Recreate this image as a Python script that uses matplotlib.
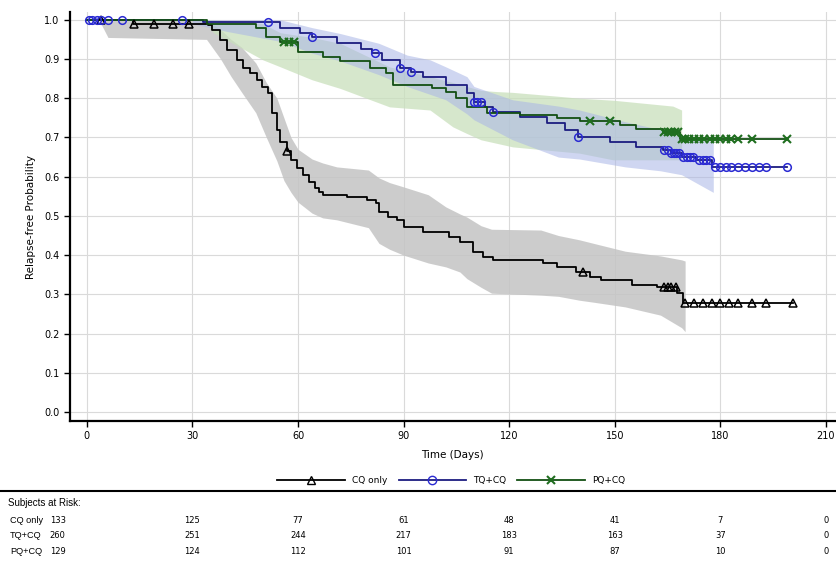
import numpy as np
import matplotlib
matplotlib.use("Agg")
import matplotlib.pyplot as plt
from matplotlib import transforms
from matplotlib.lines import Line2D

# Kaplan-Meier step curves (time in days, relapse-free probability)
cq_time = [0, 13, 34.4, 35.5, 37.8, 39.7, 42.6, 44.4, 46.3, 48.3, 49.7, 51.4, 52.6, 54, 55, 57, 58,
           59.7, 61.5, 63, 64.8, 66, 67, 74, 79.5, 82.3, 83, 85.5, 88, 90, 95.5, 103, 106, 109.7,
           112.5, 115.5, 129.6, 133.5, 139, 143, 146, 155, 162, 167.6, 169.5, 200.7]
cq_surv = [1.0, 0.99, 0.987, 0.974, 0.949, 0.923, 0.898, 0.877, 0.865, 0.847, 0.829, 0.814, 0.763,
           0.72, 0.689, 0.665, 0.643, 0.622, 0.604, 0.587, 0.571, 0.561, 0.554, 0.549, 0.541, 0.533,
           0.51, 0.497, 0.49, 0.472, 0.459, 0.447, 0.434, 0.408, 0.396, 0.388, 0.38, 0.37, 0.357,
           0.344, 0.337, 0.324, 0.318, 0.303, 0.278, 0.278]
cq_cens = [4, 13.5, 19, 24.5, 29, 57, 141, 164, 165, 166, 167.5, 170, 172.5, 175, 177.5, 180,
           182.5, 185, 189, 193, 200.7]

tq_time = [0, 33, 55, 60.5, 64, 71, 78, 81, 84, 89, 92, 95.5, 102, 108, 110, 113, 115.5, 123,
           130.7, 136, 139.5, 148.6, 156, 163.7, 166, 169, 173, 177.6, 199]
tq_surv = [1.0, 0.995, 0.98, 0.967, 0.957, 0.94, 0.925, 0.915, 0.898, 0.877, 0.868, 0.855, 0.834,
           0.814, 0.79, 0.778, 0.765, 0.753, 0.737, 0.72, 0.70, 0.689, 0.676, 0.668, 0.66, 0.651,
           0.643, 0.625, 0.625]
tq_cens = [0.5, 1.5, 3, 4, 6, 10, 27, 51.5, 64, 82, 89, 92, 110, 111, 112, 115.5, 139.5, 164, 165,
           166, 166.7, 167.5, 168.3, 169.5, 170.5, 171.5, 172.3, 174, 175, 176, 177, 178.6, 180,
           181.5, 183, 185, 187, 189, 191, 193, 199]

pq_time = [0, 34, 48, 51, 55, 60, 67, 72, 80.4, 85, 87, 98, 102, 105, 108, 113.6, 123, 133.5, 140,
           151.5, 156, 163.7, 168.5, 199]
pq_surv = [1.0, 0.99, 0.98, 0.957, 0.944, 0.918, 0.906, 0.894, 0.877, 0.864, 0.834, 0.826, 0.816,
           0.80, 0.778, 0.763, 0.758, 0.75, 0.742, 0.732, 0.722, 0.714, 0.697, 0.697]
pq_cens = [56, 57.5, 59, 143, 148.6, 164, 165, 166, 167, 168, 169, 170, 171, 172.5, 174, 175.5,
           177, 178.5, 180, 181.5, 183, 185, 189, 199]

# confidence bands
cq_band_t = [4, 6, 34, 38, 41, 44, 48, 51, 54, 56, 58, 60, 64, 67, 71, 80, 83, 86, 90, 97, 102,
             106, 108, 112, 115, 129, 134, 140, 144, 153, 163, 169, 170]
cq_upper = [1.0, 1.0, 1.0, 0.975, 0.95, 0.93, 0.89, 0.84, 0.80, 0.75, 0.70, 0.67, 0.645, 0.635,
            0.625, 0.617, 0.597, 0.585, 0.574, 0.554, 0.523, 0.505, 0.497, 0.475, 0.466, 0.464,
            0.45, 0.439, 0.43, 0.41, 0.398, 0.388, 0.385]
cq_lower = [0.99, 0.955, 0.95, 0.90, 0.855, 0.815, 0.763, 0.70, 0.64, 0.59, 0.56, 0.535, 0.507,
            0.495, 0.49, 0.47, 0.43, 0.415, 0.40, 0.38, 0.37, 0.357, 0.34, 0.318, 0.303, 0.298,
            0.295, 0.285, 0.28, 0.268, 0.247, 0.215, 0.205]

tq_band_t = [30, 40, 55, 64, 72, 83, 91, 97.5, 102, 108, 110, 121, 134, 140, 153, 163, 169, 178]
tq_upper = [1.0, 1.0, 1.0, 0.98, 0.965, 0.94, 0.91, 0.898, 0.88, 0.855, 0.83, 0.796, 0.78, 0.77,
            0.74, 0.72, 0.70, 0.69]
tq_lower = [0.99, 0.97, 0.945, 0.915, 0.895, 0.86, 0.83, 0.81, 0.796, 0.76, 0.745, 0.694, 0.65,
            0.645, 0.625, 0.615, 0.605, 0.56]

pq_band_t = [33, 36, 50, 55, 64, 72, 86, 97.5, 104, 108, 112, 116.5, 121, 134, 140, 149.5, 166.5, 169]
pq_upper = [1.0, 1.0, 0.99, 0.967, 0.955, 0.94, 0.88, 0.855, 0.84, 0.83, 0.82, 0.817, 0.815,
            0.805, 0.80, 0.795, 0.78, 0.77]
pq_lower = [1.0, 0.967, 0.898, 0.88, 0.847, 0.825, 0.778, 0.77, 0.727, 0.71, 0.694, 0.685, 0.676,
            0.665, 0.66, 0.643, 0.643, 0.643]

# numbers at risk
risk_days = [0, 30, 60, 90, 120, 150, 180, 210]
risk_cq = [133, 125, 77, 61, 48, 41, 7, 0]
risk_tq = [260, 251, 244, 217, 183, 163, 37, 0]
risk_pq = [129, 124, 112, 101, 91, 87, 10, 0]
group_names = ["CQ only", "TQ+CQ", "PQ+CQ"]


def step_value(times, surv, t):
    idx = np.searchsorted(times, t, side="right") - 1
    return np.asarray(surv)[idx]


fig = plt.figure(figsize=(8.36, 5.69), dpi=100)
ax = fig.add_axes([0.0837, 0.26, 0.916, 0.719])

# bands
ax.fill_between(cq_band_t, cq_lower, cq_upper, color="#c4c4c4", alpha=0.85, lw=0, zorder=1)
ax.fill_between(pq_band_t, pq_lower, pq_upper, color="#c9e0bc", alpha=0.75, lw=0, zorder=1)
ax.fill_between(tq_band_t, tq_lower, tq_upper, color="#a9b5e6", alpha=0.55, lw=0, zorder=1)

styles = [
    (cq_time, cq_surv, cq_cens, "black", "black", "^", "CQ only"),
    (tq_time, tq_surv, tq_cens, "#1c1c80", "#2a2ad2", "o", "TQ+CQ"),
    (pq_time, pq_surv, pq_cens, "#134f13", "#1f6e1f", "x", "PQ+CQ"),
]
for times, surv, cens, lcol, mcol, mk, name in styles:
    ax.step(times, surv, where="post", color=lcol, lw=1.3, zorder=3)
    cy = step_value(times, surv, cens)
    if mk == "x":
        ax.plot(cens, cy, ls="none", marker="x", ms=5.5, mew=1.5, color=mcol, zorder=4)
    else:
        ax.plot(cens, cy, ls="none", marker=mk, ms=5.5, mew=1.1, mfc="none", mec=mcol, zorder=4)

ax.set_xlim(-4.8, 212.8)
ax.set_ylim(-0.023, 1.02)
ax.set_xticks(risk_days)
ax.set_yticks(np.arange(0, 1.01, 0.1))
ax.set_yticklabels([f"{v:.1f}" for v in np.arange(0, 1.01, 0.1)])
ax.grid(True, color="#dadada", lw=0.8)
ax.set_axisbelow(True)
for s in ["top", "right"]:
    ax.spines[s].set_visible(False)
for s in ["left", "bottom"]:
    ax.spines[s].set_linewidth(1.6)
ax.tick_params(labelsize=7, length=4, width=1, colors="black")
ax.set_xlabel("Time (Days)", fontsize=7.5, labelpad=6)
ax.set_ylabel("Relapse-free Probability", fontsize=7.5, labelpad=6)

handles = [
    Line2D([], [], color="black", lw=1.3, marker="^", ms=6, mfc="none", mec="black"),
    Line2D([], [], color="#1c1c80", lw=1.3, marker="o", ms=6, mfc="none", mec="#2a2ad2"),
    Line2D([], [], color="#134f13", lw=1.3, marker="x", ms=6, mew=1.5, mec="#1f6e1f"),
]
fig.legend(handles, group_names, loc="center", bbox_to_anchor=(0.54, 0.156), ncol=3,
           frameon=False, fontsize=6.5, handlelength=7.5, numpoints=1, columnspacing=1.2,
           handletextpad=0.8)

# at-risk table
fig.add_artist(Line2D([0, 1], [0.137, 0.137], color="black", lw=1.5, transform=fig.transFigure))
fig.text(0.01, 0.116, "Subjects at Risk:", fontsize=7, va="center", family="Liberation Sans")
trans = transforms.blended_transform_factory(ax.transData, fig.transFigure)
for row_y, name, counts in zip([0.086, 0.058, 0.030], group_names, [risk_cq, risk_tq, risk_pq]):
    fig.text(0.012, row_y, name, fontsize=6.6, va="center", family="Liberation Sans")
    for i, (d, n) in enumerate(zip(risk_days, counts)):
        xpos = -8.3 if i == 0 else d
        ax.text(xpos, row_y, str(n), transform=trans, fontsize=6, ha="center", va="center",
                clip_on=False)

fig.savefig("out.png", dpi=100)
